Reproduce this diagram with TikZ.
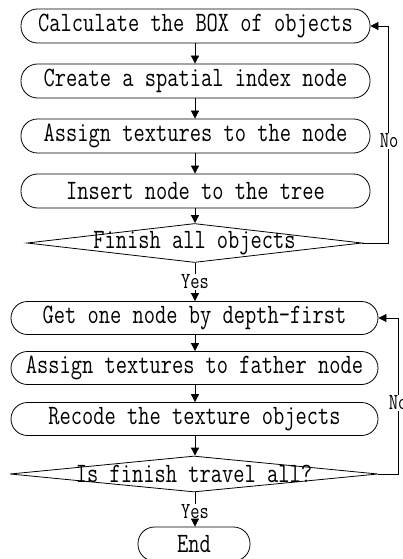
\documentclass[tikz,border=0pt]{standalone}
\usepackage{fontspec}
\usetikzlibrary{shapes.geometric,arrows.meta}
\newfontfamily\flowfont[FakeStretch=0.78]{Latin Modern Mono}
\begin{document}
\begin{tikzpicture}[x=1pt,y=-1pt,
  line width=0.8pt,
  every node/.style={font=\flowfont},
  procbox/.style={draw, rectangle, rounded corners=16.5pt, minimum height=34pt,
    inner sep=0pt, font=\flowfont\fontsize{28}{28}\selectfont},
  decide/.style={draw, diamond, inner sep=0pt},
  decidetext/.style={inner sep=0pt, font=\flowfont\fontsize{28}{28}\selectfont},
  lbl/.style={fill=white, inner sep=1pt, font=\flowfont\fontsize{23}{23}\selectfont},
  flow/.style={-{Triangle[length=8pt,width=8pt]}}
]
\useasboundingbox[fill=white] (0,0) rectangle (403,559);

% first stage: build the spatial index
\node[procbox, minimum width=349pt] (b1) at (195.5,26) {Calculate the BOX of objects};
\node[procbox, minimum width=349pt] (b2) at (195.5,81) {Create a spatial index node};
\node[procbox, minimum width=349pt] (b3) at (195.5,136) {Assign textures to the node};
\node[procbox, minimum width=349pt] (b4) at (195.5,191) {Insert node to the tree};
\node[decide, minimum width=335pt, minimum height=39pt] (d1) at (194.5,243) {};
\node[decidetext] (t1) at (d1.center) {Finish all objects};

% second stage: depth-first traversal
\node[procbox, minimum width=367pt, minimum height=33pt] (b5) at (194.5,318) {Get one node by depth-first};
\node[procbox, minimum width=367pt, minimum height=33pt] (b6) at (194.5,368) {Assign textures to father node};
\node[procbox, minimum width=367pt, minimum height=33pt] (b7) at (194.5,419) {Recode the texture objects};
\node[decide, minimum width=368pt, minimum height=36pt] (d2) at (194,474) {};
\node[decidetext] (t2) at (d2.center) {Is finish travel all?};
\node[procbox, minimum width=112pt] (e) at (194,544) {End};

% main flow
\draw[flow] (b1.south -| 195,0) -- (b2.north -| 195,0);
\draw[flow] (b2.south -| 195,0) -- (b3.north -| 195,0);
\draw[flow] (b3.south -| 195,0) -- (b4.north -| 195,0);
\draw[flow] (b4.south -| 195,0) -- (d1.north -| 195,0);
\node[lbl] (y1) at (195,282) {Yes};
\draw (d1.south -| 195,0) -- (y1.north -| 195,0);
\draw[flow] (y1.south -| 195,0) -- (b5.north -| 195,0);
\draw[flow] (b5.south -| 195,0) -- (b6.north -| 195,0);
\draw[flow] (b6.south -| 195,0) -- (b7.north -| 195,0);
\draw[flow] (b7.south -| 195,0) -- (d2.north -| 195,0);
\node[lbl] (y2) at (195,512) {Yes};
\draw (d2.south -| 195,0) -- (y2.north -| 195,0);
\draw[flow] (y2.south -| 195,0) -- (e.north -| 195,0);

% loop-back branches
\coordinate (c1) at (388,243);
\coordinate (c2) at (388,26);
\draw[flow] (d1.east) -- (c1) -- (c2) -- (b1.east);
\node[lbl] (n1) at (389,141) {No};
\coordinate (c3) at (398,474);
\coordinate (c4) at (398,318);
\draw[flow] (d2.east) -- (c3) -- (c4) -- (b5.east);
\node[lbl] (n2) at (398,403) {No};
\end{tikzpicture}
\end{document}
